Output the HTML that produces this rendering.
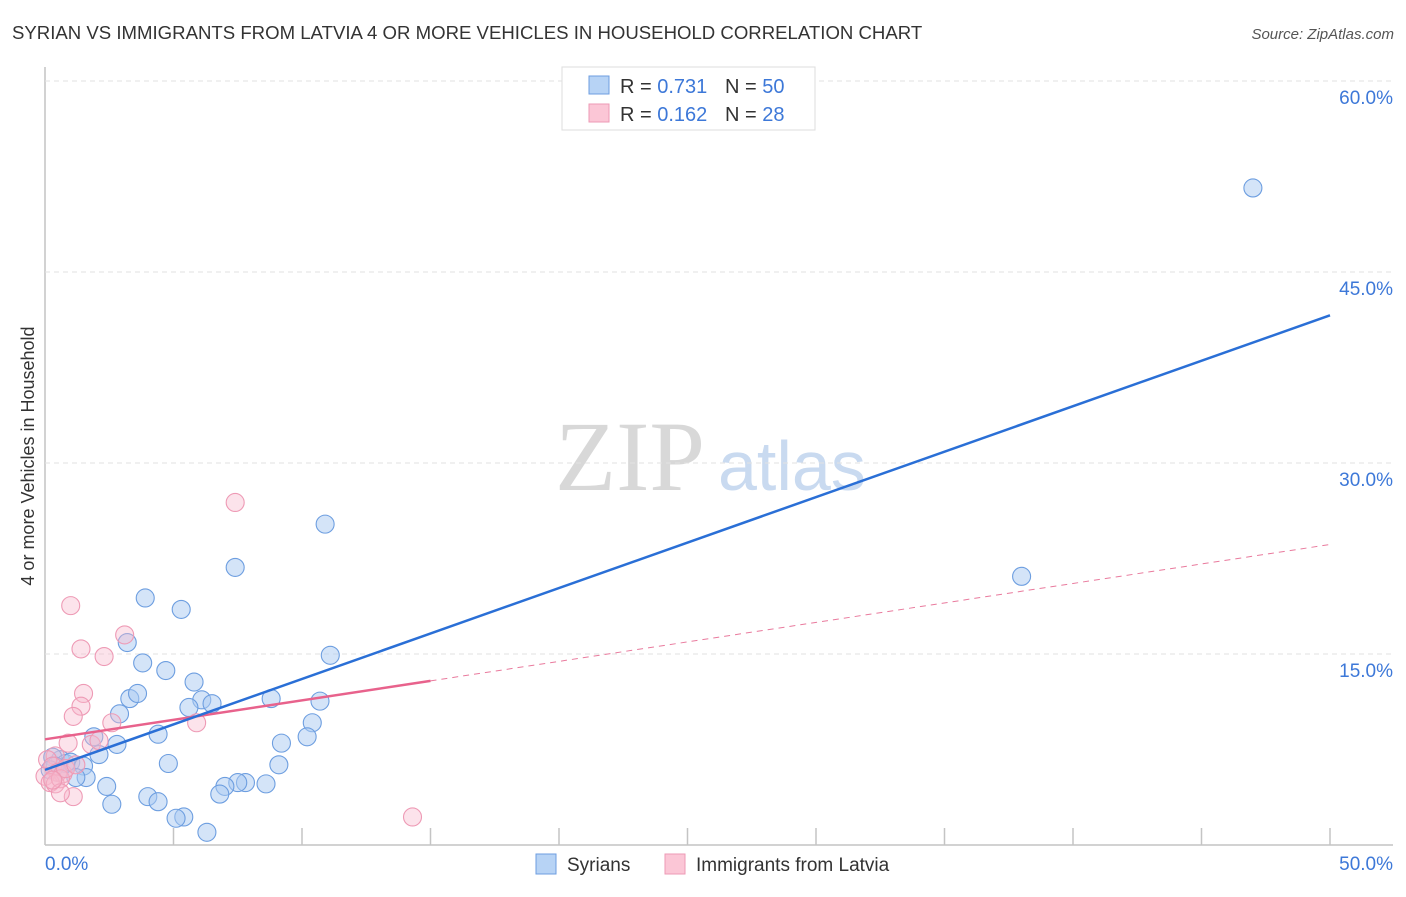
<!DOCTYPE html>
<html><head><meta charset="utf-8"><style>
body{margin:0;background:#fff;font-family:"Liberation Sans",sans-serif}
svg text{font-family:"Liberation Sans",sans-serif}
</style></head><body>
<svg id="chart" width="1406" height="892" viewBox="0 0 1406 892" xmlns="http://www.w3.org/2000/svg">
<text x="12" y="39" font-size="18.6" fill="#333">SYRIAN VS IMMIGRANTS FROM LATVIA 4 OR MORE VEHICLES IN HOUSEHOLD CORRELATION CHART</text>
<text x="1394" y="39" font-size="15" fill="#555" text-anchor="end" font-style="italic">Source: ZipAtlas.com</text>
<text x="555" y="490" font-size="100" fill="#d8d8d8" style="font-family:'Liberation Serif',serif">ZIP</text>
<text x="718" y="490" font-size="70" fill="#c9daf0">atlas</text>
<text transform="translate(34,456) rotate(-90)" font-size="18" fill="#333" text-anchor="middle">4 or more Vehicles in Household</text>
<g id="grid"></g><g id="marks"></g>
<g>
<rect x="562" y="67" width="253" height="63" fill="#fff" stroke="#ddd"/>
<rect x="589" y="76" width="20" height="18" fill="#b7d3f5" stroke="#6d9ee0"/>
<rect x="589" y="104" width="20" height="18" fill="#fbc6d6" stroke="#ee9ab5"/>
<text x="620" y="93" font-size="20" fill="#333">R = <tspan fill="#3d78d8">0.731</tspan></text>
<text x="725" y="93" font-size="20" fill="#333">N = <tspan fill="#3d78d8">50</tspan></text>
<text x="620" y="121" font-size="20" fill="#333">R = <tspan fill="#3d78d8">0.162</tspan></text>
<text x="725" y="121" font-size="20" fill="#333">N =  <tspan fill="#3d78d8">28</tspan></text>
</g>
<g>
<rect x="536" y="854" width="20" height="20" fill="#b7d3f5" stroke="#6d9ee0"/>
<text x="567" y="871" font-size="19" fill="#333">Syrians</text>
<rect x="665" y="854" width="20" height="20" fill="#fbc6d6" stroke="#ee9ab5"/>
<text x="696" y="871" font-size="19" fill="#333">Immigrants from Latvia</text>
</g>
</svg>
<script>
const xTicks=[0,5,10,15,20,25,30,35,40,45,50];
const yTicks=[15,30,45,60];
const syrX=[47.0,38.0,10.9,7.4,3.9,5.3,3.2,3.8,4.7,11.1,5.8,3.3,3.6,6.1,5.6,6.5,10.7,8.8,2.9,10.4,4.4,1.9,9.2,10.2,2.8,2.1,0.6,0.3,0.8,1.0,1.5,4.8,9.1,1.6,1.2,2.4,8.6,7.8,7.5,7.0,6.8,4.0,4.4,2.6,5.4,5.1,6.3,0.4,0.2,0.5];
const syrY=[51.6,21.1,25.2,21.8,19.4,18.5,15.9,14.3,13.7,14.9,12.8,11.5,11.9,11.4,10.8,11.1,11.3,11.5,10.3,9.6,8.7,8.5,8.0,8.5,7.9,7.1,6.7,6.9,6.4,6.5,6.2,6.4,6.3,5.3,5.3,4.6,4.8,4.9,4.9,4.6,4.0,3.8,3.4,3.2,2.2,2.1,1.0,6.2,5.9,5.7];
const latX=[7.4,1.0,1.4,3.1,2.3,1.5,1.4,1.1,2.6,5.9,0.9,0.4,0.1,0.3,0.5,0.0,0.7,0.2,0.4,0.6,1.1,0.6,14.3,0.8,1.8,2.1,1.2,0.3];
const latY=[26.9,18.8,15.4,16.5,14.8,11.9,10.9,10.1,9.6,9.6,8.0,7.0,6.7,6.2,5.7,5.4,5.6,4.9,4.8,5.2,3.8,4.1,2.2,6.0,7.9,8.2,6.3,5.1];
const syrTrend=[5.9,41.6];
const latTrend=[8.3,23.6];
const latSolidEnd=15;
const X=v=>45+v*(1285/50), Y=v=>845-v*(191/15);
const NS="http://www.w3.org/2000/svg";
const grid=document.getElementById('grid'), marks=document.getElementById('marks');
function mk(tag,attrs,parent){const e=document.createElementNS(NS,tag);for(const k in attrs)e.setAttribute(k,attrs[k]);parent.appendChild(e);return e;}
let e=mk('line',{x1:45,y1:67,x2:45,y2:845,stroke:'#c4c4c4','stroke-width':1.5},grid);


e=mk('line',{x1:45,y1:845,x2:1393,y2:845,stroke:'#c4c4c4','stroke-width':1.5},grid);


yTicks.forEach(t=>{
 const g=mk('line',{x1:45,y1:Y(t),x2:1393,y2:Y(t),stroke:'#e2e2e2','stroke-dasharray':'5,4'},grid);
 
 
 const l=mk('text',{x:1393,y:Y(t)+23,'font-size':19,fill:'#3d78d8','text-anchor':'end'},grid);l.textContent=t.toFixed(1)+'%';
 
 
});
xTicks.forEach(t=>{
 if(t>0){const k=mk('line',{x1:X(t),y1:828,x2:X(t),y2:845,stroke:'#c4c4c4','stroke-width':1.5},grid);
 
 }
});
[[0,'start',45],[50,'end',1393]].forEach(([t,a,x])=>{
 const l=mk('text',{x:x,y:870,'font-size':19,fill:'#3d78d8','text-anchor':a},grid);l.textContent=t.toFixed(1)+'%';
 
 
});
syrX.forEach((v,i)=>{
 const c=mk('circle',{cx:X(v),cy:Y(syrY[i]),r:9,fill:'rgba(170,202,242,0.5)',stroke:'#6d9ee0','stroke-width':1.1},marks);
 
 
});
latX.forEach((v,i)=>{
 const c=mk('circle',{cx:X(v),cy:Y(latY[i]),r:9,fill:'rgba(248,186,205,0.4)',stroke:'#ee9ab5','stroke-width':1.1},marks);
 
 
});
const ly=x=>latTrend[0]+(latTrend[1]-latTrend[0])*x/50;
e=mk('line',{x1:X(latSolidEnd),y1:Y(ly(latSolidEnd)),x2:X(50),y2:Y(latTrend[1]),stroke:'#e97a9d','stroke-width':1,'stroke-dasharray':'6,5'},marks);


e=mk('line',{x1:X(0),y1:Y(latTrend[0]),x2:X(latSolidEnd),y2:Y(ly(latSolidEnd)),stroke:'#e8628c','stroke-width':2.5},marks);


e=mk('line',{x1:X(0),y1:Y(syrTrend[0]),x2:X(50),y2:Y(syrTrend[1]),stroke:'#2a6fd6','stroke-width':2.5},marks);


</script>
</body></html>
